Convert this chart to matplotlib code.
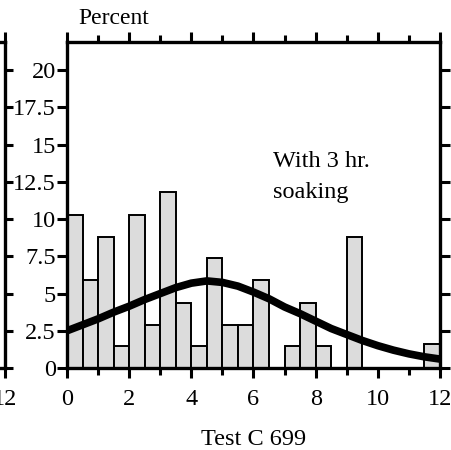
import numpy as np
import matplotlib.pyplot as plt

plt.rcParams['font.family'] = ['Liberation Serif', 'DejaVu Serif']

# histogram, bins of 0.5 from 0 to 12 (percent of samples)
bin_width = 0.5
bin_edges = np.arange(0, 12, bin_width)
percent = [10.3, 5.9, 8.8, 1.5, 10.3, 2.9, 11.8, 4.4, 1.5, 7.4, 2.9, 2.9,
           5.9, 0, 1.5, 4.4, 1.5, 0, 8.8, 0, 0, 0, 0, 1.6]

# fitted distribution curve
fit_x = [0, 0.5, 1, 1.5, 2, 2.5, 3, 3.5, 4, 4.5, 5, 5.5, 6, 6.5,
         7, 7.5, 8, 8.5, 9, 9.5, 10, 10.5, 11, 11.5, 12]
fit_y = [2.5, 2.9, 3.3, 3.75, 4.15, 4.6, 5.0, 5.4, 5.7, 5.85, 5.75, 5.5, 5.1, 4.65,
         4.1, 3.65, 3.15, 2.65, 2.25, 1.85, 1.5, 1.2, 0.95, 0.75, 0.6]

y_ticks = [0, 2.5, 5, 7.5, 10, 12.5, 15, 17.5, 20]
y_labels = ['0', '2.5', '5', '7.5', '10', '12.5', '15', '17.5', '20']
x_ticks = [0, 2, 4, 6, 8, 10, 12]

fig = plt.figure(figsize=(4.52, 4.5), dpi=100)
ax = fig.add_axes([67 / 452, 82 / 450, 373 / 452, 326 / 450])

ax.bar(bin_edges, percent, width=bin_width, align='edge',
       color='#dcdcdc', edgecolor='black', linewidth=1.4, zorder=2)
ax.plot(fit_x, fit_y, color='black', linewidth=5.5,
        solid_capstyle='round', solid_joinstyle='round', zorder=3)

ax.set_xlim(0, 12)
ax.set_ylim(0, 21.9)
ax.set_yticks(y_ticks)
ax.set_yticklabels(y_labels)
ax.set_xticks(x_ticks)
ax.set_xticks(np.arange(1, 12, 2), minor=True)

for s in ax.spines.values():
    s.set_linewidth(2.4)
ax.tick_params(axis='both', which='major', direction='out', length=7, width=2.2,
               labelsize=17.5, pad=1, top=True, right=True)
ax.tick_params(axis='x', which='minor', direction='out', length=5, width=2.2,
               top=True)
ax.tick_params(axis='x', which='major', pad=8)

ax.text(0.03, 1.04, 'Percent', transform=ax.transAxes, fontsize=17,
        ha='left', va='bottom')
ax.text(6.62, 14.6, 'With 3 hr.\nsoaking', fontsize=17.5, ha='left', va='top',
        linespacing=1.65)
ax.set_xlabel('Test C 699', fontsize=17.5, labelpad=14)

# edge of the neighbouring panel on the left
ax_left = fig.add_axes([-368 / 452, 82 / 450, 373 / 452, 326 / 450])
ax_left.set_xlim(0, 12)
ax_left.set_ylim(0, 21.9)
ax_left.set_xticks([12])
ax_left.set_yticks(y_ticks)
ax_left.yaxis.tick_right()
ax_left.set_yticklabels([])
for s in ax_left.spines.values():
    s.set_linewidth(2.4)
ax_left.tick_params(axis='y', direction='out', length=6, width=2.2, right=True)
ax_left.tick_params(axis='x', direction='out', length=7, width=2.2,
                    labelsize=17.5, pad=8, top=True)

fig.savefig('out.png', dpi=100)
